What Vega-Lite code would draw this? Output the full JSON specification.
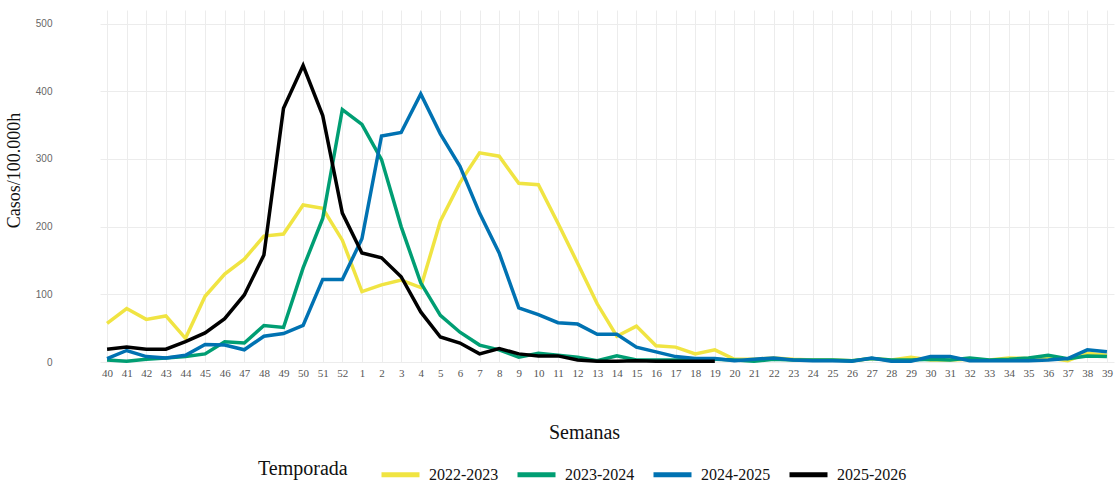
{
  "$schema": "https://vega.github.io/schema/vega-lite/v6.json",
  "width": 1014,
  "height": 352,
  "autosize": {"type": "none"},
  "padding": {"left": 100, "top": 10, "right": 4, "bottom": 124},
  "background": "white",
  "config": {"view": {"stroke": null}},
  "data": {
    "values": [
      {"w": "40", "a": 57, "b": 3, "c": 5, "d": 19},
      {"w": "41", "a": 79, "b": 1, "c": 17, "d": 22},
      {"w": "42", "a": 63, "b": 4, "c": 8, "d": 19},
      {"w": "43", "a": 68, "b": 6, "c": 6, "d": 19},
      {"w": "44", "a": 35, "b": 8, "c": 10, "d": 30},
      {"w": "45", "a": 97, "b": 12, "c": 26, "d": 43},
      {"w": "46", "a": 130, "b": 30, "c": 25, "d": 64},
      {"w": "47", "a": 152, "b": 28, "c": 18, "d": 99},
      {"w": "48", "a": 186, "b": 54, "c": 38, "d": 158},
      {"w": "49", "a": 189, "b": 51, "c": 42, "d": 375},
      {"w": "50", "a": 232, "b": 139, "c": 54, "d": 438},
      {"w": "51", "a": 227, "b": 212, "c": 122, "d": 364},
      {"w": "52", "a": 180, "b": 373, "c": 122, "d": 220},
      {"w": "1", "a": 104, "b": 351, "c": 182, "d": 161},
      {"w": "2", "a": 114, "b": 299, "c": 334, "d": 154},
      {"w": "3", "a": 121, "b": 200, "c": 339, "d": 126},
      {"w": "4", "a": 110, "b": 117, "c": 396, "d": 74},
      {"w": "5", "a": 208, "b": 69, "c": 337, "d": 37},
      {"w": "6", "a": 265, "b": 44, "c": 289, "d": 28},
      {"w": "7", "a": 309, "b": 25, "c": 220, "d": 12},
      {"w": "8", "a": 304, "b": 18, "c": 161, "d": 20},
      {"w": "9", "a": 264, "b": 7, "c": 80, "d": 12},
      {"w": "10", "a": 262, "b": 13, "c": 70, "d": 9},
      {"w": "11", "a": 205, "b": 10, "c": 58, "d": 9},
      {"w": "12", "a": 146, "b": 7, "c": 56, "d": 3},
      {"w": "13", "a": 86, "b": 2, "c": 41, "d": 1},
      {"w": "14", "a": 38, "b": 9, "c": 41, "d": 1},
      {"w": "15", "a": 53, "b": 3, "c": 22, "d": 2},
      {"w": "16", "a": 24, "b": 3, "c": 15, "d": 1},
      {"w": "17", "a": 22, "b": 3, "c": 8, "d": 1},
      {"w": "18", "a": 12, "b": 4, "c": 5, "d": 1},
      {"w": "19", "a": 18, "b": 4, "c": 5, "d": 1},
      {"w": "20", "a": 4, "b": 3, "c": 2, "d": null},
      {"w": "21", "a": 4, "b": 1, "c": 4, "d": null},
      {"w": "22", "a": 6, "b": 4, "c": 6, "d": null},
      {"w": "23", "a": 4, "b": 3, "c": 3, "d": null},
      {"w": "24", "a": 3, "b": 3, "c": 2, "d": null},
      {"w": "25", "a": 3, "b": 3, "c": 2, "d": null},
      {"w": "26", "a": 2, "b": 2, "c": 1, "d": null},
      {"w": "27", "a": 5, "b": 5, "c": 6, "d": null},
      {"w": "28", "a": 3, "b": 3, "c": 1, "d": null},
      {"w": "29", "a": 7, "b": 3, "c": 1, "d": null},
      {"w": "30", "a": 3, "b": 4, "c": 8, "d": null},
      {"w": "31", "a": 3, "b": 3, "c": 8, "d": null},
      {"w": "32", "a": 4, "b": 6, "c": 2, "d": null},
      {"w": "33", "a": 3, "b": 3, "c": 2, "d": null},
      {"w": "34", "a": 6, "b": 4, "c": 2, "d": null},
      {"w": "35", "a": 5, "b": 6, "c": 2, "d": null},
      {"w": "36", "a": 6, "b": 10, "c": 3, "d": null},
      {"w": "37", "a": 2, "b": 5, "c": 5, "d": null},
      {"w": "38", "a": 13, "b": 9, "c": 18, "d": null},
      {"w": "39", "a": 10, "b": 8, "c": 15, "d": null}
    ]
  },
  "transform": [
    {"fold": ["a", "b", "c", "d"], "as": ["k", "v"]},
    {"lookup": "k", "from": {"data": {"values": [
      {"k": "a", "t": "2022-2023"},
      {"k": "b", "t": "2023-2024"},
      {"k": "c", "t": "2024-2025"},
      {"k": "d", "t": "2025-2026"}
    ]}, "key": "k", "fields": ["t"]}}
  ],
  "mark": {"type": "line", "strokeWidth": 3.5, "strokeCap": "butt"},
  "encoding": {
    "x": {
      "field": "w",
      "type": "ordinal",
      "scale": {
        "domain": ["40","41","42","43","44","45","46","47","48","49","50","51","52","1","2","3","4","5","6","7","8","9","10","11","12","13","14","15","16","17","18","19","20","21","22","23","24","25","26","27","28","29","30","31","32","33","34","35","36","37","38","39"],
        "padding": 0.36
      },
      "axis": {
        "title": "Semanas",
        "titleFont": "Liberation Serif",
        "titleFontSize": 20,
        "titleFontWeight": "normal",
        "titleColor": "#111",
        "titleX": 484,
        "titleY": 60,
        "titleBaseline": "top",
        "labelFont": "Liberation Serif",
        "labelFontSize": 11,
        "labelColor": "#555",
        "labelAngle": 0,
        "labelPadding": 5,
        "ticks": false,
        "domain": false,
        "grid": true,
        "gridColor": "#ececec",
        "gridWidth": 1
      }
    },
    "y": {
      "field": "v",
      "type": "quantitative",
      "scale": {"domain": [0, 520], "nice": false},
      "axis": {
        "title": "Casos/100.000h",
        "titleFont": "Liberation Serif",
        "titleFontSize": 18,
        "titleFontWeight": "normal",
        "titleColor": "#111",
        "titlePadding": 12,
        "titleY": 160,
        "titleAlign": "center",
        "values": [0, 100, 200, 300, 400, 500],
        "labelFont": "Liberation Sans",
        "labelFontSize": 10,
        "labelColor": "#666",
        "labelPadding": 48,
        "ticks": false,
        "domain": false,
        "grid": true,
        "gridColor": "#ececec",
        "gridWidth": 1
      }
    },
    "color": {
      "field": "t",
      "type": "nominal",
      "scale": {
        "domain": ["2022-2023", "2023-2024", "2024-2025", "2025-2026"],
        "range": ["#F0E442", "#009E73", "#0072B2", "#000000"]
      },
      "legend": {
        "title": "Temporada",
        "orient": "none",
        "legendX": 158,
        "legendY": 443,
        "direction": "horizontal",
        "titleOrient": "left",
        "titleFont": "Liberation Serif",
        "titleFontSize": 20,
        "titleFontWeight": "normal",
        "titleColor": "#111",
        "titlePadding": 31,
        "titleBaseline": "middle",
        "labelFont": "Liberation Serif",
        "labelFontSize": 16,
        "labelColor": "#111",
        "labelOffset": 7,
        "symbolType": "stroke",
        "symbolSize": 1444,
        "symbolStrokeWidth": 5,
        "columnPadding": 8
      }
    }
  }
}
